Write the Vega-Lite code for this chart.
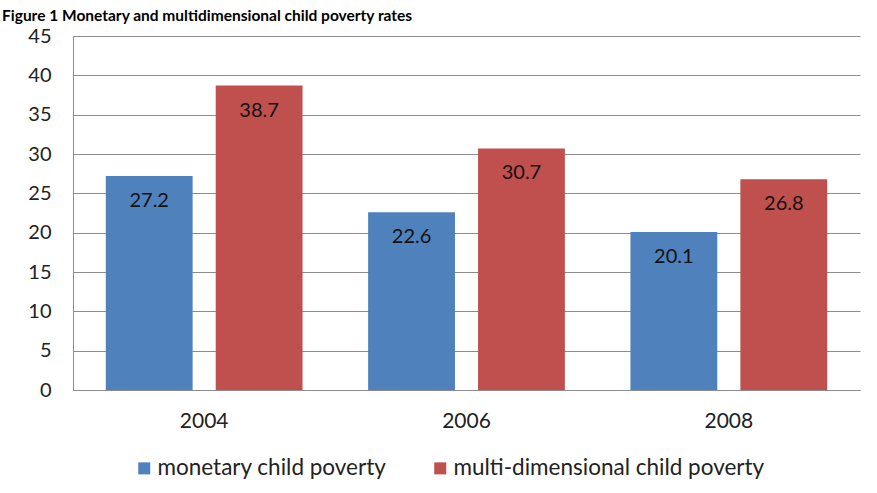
{
  "$schema": "https://vega.github.io/schema/vega-lite/v6.json",
  "width": 787,
  "height": 354,
  "autosize": {"type": "none"},
  "padding": {"left": 73, "top": 36, "right": 17, "bottom": 103},
  "background": "white",
  "title": {
    "text": "Figure 1 Monetary and multidimensional child poverty rates",
    "anchor": "start",
    "frame": "group",
    "orient": "top",
    "offset": 3,
    "dy": 13,
    "dx": -71,
    "font": "Lato",
    "fontSize": 15.5,
    "fontWeight": "bold",
    "color": "black",
    "baseline": "alphabetic"
  },
  "data": {
    "values": [
      {"year": "2004", "series": "monetary child poverty", "rate": 27.2},
      {"year": "2004", "series": "multi-dimensional child poverty", "rate": 38.7},
      {"year": "2006", "series": "monetary child poverty", "rate": 22.6},
      {"year": "2006", "series": "multi-dimensional child poverty", "rate": 30.7},
      {"year": "2008", "series": "monetary child poverty", "rate": 20.1},
      {"year": "2008", "series": "multi-dimensional child poverty", "rate": 26.8}
    ]
  },
  "encoding": {
    "x": {
      "field": "year", "type": "nominal",
      "scale": {"paddingInner": 0.25, "paddingOuter": 0.125},
      "axis": {"title": null, "labelAngle": 0, "ticks": false, "labelPadding": 20, "labelFontSize": 21, "labelFont": "Lato", "labelColor": "#222", "domainColor": "#8c8c8c", "grid": false}
    },
    "xOffset": {
      "field": "series", "type": "nominal",
      "sort": ["monetary child poverty", "multi-dimensional child poverty"],
      "scale": {"paddingInner": 0.21, "paddingOuter": 0}
    },
    "y": {
      "field": "rate", "type": "quantitative",
      "scale": {"domain": [0, 45], "nice": false},
      "axis": {"title": null, "values": [0,5,10,15,20,25,30,35,40,45], "ticks": false, "labelPadding": 22, "labelFontSize": 20, "labelFont": "Lato", "labelColor": "#222", "domainColor": "#8c8c8c", "gridColor": "#8c8c8c", "gridOpacity": 1}
    }
  },
  "layer": [
    {
      "mark": {"type": "bar"},
      "encoding": {
        "color": {
          "field": "series", "type": "nominal",
          "sort": ["monetary child poverty", "multi-dimensional child poverty"],
          "scale": {"domain": ["monetary child poverty", "multi-dimensional child poverty"], "range": ["#4F81BD", "#C0504D"]},
          "legend": {
            "title": null, "orient": "none", "direction": "horizontal",
            "legendX": 60, "legendY": 421,
            "symbolType": "square", "symbolSize": 144, "symbolStrokeWidth": 0,
            "labelFont": "Lato", "labelFontSize": 22.5, "labelColor": "#222", "labelLimit": 0,
            "columnPadding": 42, "labelOffset": 2
          }
        }
      }
    },
    {
      "mark": {"type": "text", "dy": 25, "baseline": "middle", "fontSize": 20, "font": "Lato", "color": "#111"},
      "encoding": {
        "text": {"field": "rate", "type": "quantitative", "format": ".1f"}
      }
    }
  ],
  "config": {
    "view": {"stroke": null}
  }
}
